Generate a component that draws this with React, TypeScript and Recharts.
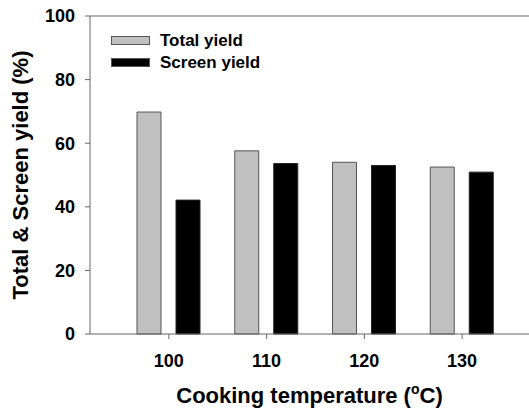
import React from "react";
import { BarChart, Bar, XAxis, YAxis, Legend, ReferenceLine } from "recharts";

const temperatures = ["100", "110", "120", "130"];
const totalYield = [69.8, 57.6, 54.0, 52.5];
const screenYield = [42.1, 53.6, 53.0, 50.9];
const yTicks = [0, 20, 40, 60, 80, 100];
const seriesNames = ["Total yield", "Screen yield"];

const FONT = '"Liberation Sans", Arial, sans-serif';
const AXIS = "#666";

const data = temperatures.map((t, i) => ({
  temp: t,
  total: totalYield[i],
  screen: screenYield[i],
}));

const renderLegend = (props: any) => {
  const payload = [...(props.payload || [])].sort(
    (a: any, b: any) => seriesNames.indexOf(a.value) - seriesNames.indexOf(b.value)
  );
  return (
    <div style={{ fontFamily: FONT, fontWeight: "bold", fontSize: 17, color: "#000" }}>
      {payload.map((entry: any) => (
        <div
          key={entry.value}
          style={{ display: "flex", alignItems: "center", height: 22 }}
        >
          <span
            style={{
              display: "inline-block",
              width: 37,
              height: 7,
              background: entry.color,
              border: "1px solid #555",
              marginRight: 10,
            }}
          />
          <span>{entry.value}</span>
        </div>
      ))}
    </div>
  );
};

export default function App() {
  return (
    <div style={{ position: "absolute", left: 0, top: 0, width: 529, height: 411, background: "#fff" }}>
      <BarChart
        width={529}
        height={411}
        data={data}
        margin={{ top: 16, right: 0, left: 0, bottom: 0 }}
        barGap={15}
        style={{ fontFamily: FONT }}
      >
        <ReferenceLine y={100} stroke={AXIS} strokeWidth={1} />
        <XAxis
          dataKey="temp"
          height={77}
          padding={{ left: 30, right: 18 }}
          stroke={AXIS}
          tickSize={5}
          tickMargin={15}
          tick={{ fill: "#000", fontSize: 18, fontWeight: "bold", fontFamily: FONT }}
          label={(p: any) => {
            const vb = p.viewBox;
            const cx = vb.x + vb.width / 2;
            return (
              <text
                x={cx}
                y={403}
                textAnchor="middle"
                fontFamily={FONT}
                fontSize={22}
                fontWeight="bold"
                fill="#000"
              >
                Cooking temperature (
                <tspan fontSize={14} dy={-9}>o</tspan>
                <tspan dy={9}>C)</tspan>
              </text>
            );
          }}
        />
        <YAxis
          width={90}
          domain={[0, 100]}
          ticks={yTicks}
          stroke={AXIS}
          tickSize={5}
          tickMargin={10}
          tick={{ fill: "#000", fontSize: 18, fontWeight: "bold", fontFamily: FONT }}
          label={(p: any) => {
            const vb = p.viewBox;
            const cy = vb.y + vb.height / 2;
            return (
              <text
                x={20}
                y={cy}
                transform={`rotate(-90 20 ${cy})`}
                textAnchor="middle"
                dominantBaseline="central"
                fontFamily={FONT}
                fontSize={22}
                fontWeight="bold"
                fill="#000"
              >
                Total &amp; Screen yield (%)
              </text>
            );
          }}
        />
        <Legend
          layout="vertical"
          align="center"
          verticalAlign="middle"
          content={renderLegend}
          wrapperStyle={{ left: 111, top: 29.5, width: "auto" }}
        />
        <Bar
          dataKey="total"
          name={seriesNames[0]}
          fill="#c0c0c0"
          stroke="#555"
          strokeWidth={1}
          barSize={24}
          isAnimationActive={false}
        />
        <Bar
          dataKey="screen"
          name={seriesNames[1]}
          fill="#000"
          stroke="#222"
          strokeWidth={1}
          barSize={24}
          isAnimationActive={false}
        />
      </BarChart>
    </div>
  );
}
